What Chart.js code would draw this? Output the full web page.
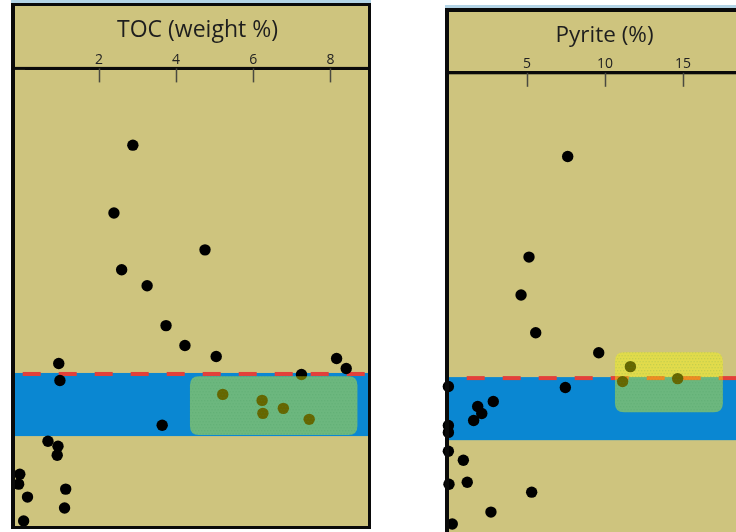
<!DOCTYPE html>
<html>
<head>
<meta charset="utf-8">
<script src="https://cdn.jsdelivr.net/npm/chart.js@4.4.1/dist/chart.umd.min.js"></script>
<style>
  html, body { margin: 0; padding: 0; background: #ffffff; }
  body { width: 736px; height: 532px; position: relative; overflow: hidden; }
  canvas { position: absolute; top: 0; }
  #tocChart { left: 0; }
  #pyriteChart { left: 440px; }
</style>
</head>
<body>
<canvas id="tocChart" width="380" height="532"></canvas>
<canvas id="pyriteChart" width="320" height="532"></canvas>
<script>
// Total organic carbon samples (weight %) and their depth (depth units, increasing downwards)
const tocValues = [2.88, 2.39, 4.75, 2.59, 3.25, 3.74, 4.23, 5.04, 8.16, 8.41,
                   0.96, 0.99, 7.25, 5.21, 6.23, 6.25, 6.78, 7.45, 3.64, 0.68,
                   0.94, 0.92, -0.05, -0.08, 0.15, 1.14, 1.11, 0.05];
const tocDepth  = [7.7, 14.5, 18.2, 20.2, 21.8, 25.8, 27.8, 28.9, 29.1, 30.1,
                   29.6, 31.3, 30.7, 32.7, 33.3, 34.6, 34.1, 35.2, 35.8, 37.4,
                   37.9, 38.8, 40.7, 41.7, 43.0, 42.2, 44.1, 45.4];

// Pyrite content (%) and depth
const pyriteValues = [7.61, 5.13, 4.62, 5.56, 9.60, 11.63, 11.13, 14.66, 7.46, -0.04,
                      2.84, 1.84, 2.10, 1.58, -0.04, -0.04, -0.04, 0.92, 1.17, 0.0,
                      5.30, 2.69, 0.21];
const pyriteDepth  = [8.4, 18.5, 22.3, 26.1, 28.1, 29.5, 31.0, 30.7, 31.6, 31.5,
                      33.0, 33.5, 34.2, 34.9, 35.4, 36.1, 38.0, 38.9, 41.1, 41.3,
                      42.1, 44.1, 45.3];

// Axis ticks
const tocTicks = [2, 4, 6, 8];
const pyriteTicks = [5, 10, 15];

// Interval markers (depth)
const bandDepth = [30.55, 36.88];   // blue interval
const boundaryDepth = 30.65;        // red dashed boundary
// Highlighted windows: [xMin, xMax, depthTop, depthBottom]
const tocWindow = [4.36, 8.70, 30.87, 36.78];
const pyriteWindow = [10.64, 17.56, 28.06, 34.07];

const KHAKI = '#cec47e';
const BLUE = '#0a87d2';
const RED = '#e3403a';

function roundRect(ctx, x, y, w, h, r) {
  ctx.beginPath();
  ctx.moveTo(x + r, y);
  ctx.lineTo(x + w - r, y);
  ctx.quadraticCurveTo(x + w, y, x + w, y + r);
  ctx.lineTo(x + w, y + h - r);
  ctx.quadraticCurveTo(x + w, y + h, x + w - r, y + h);
  ctx.lineTo(x + r, y + h);
  ctx.quadraticCurveTo(x, y + h, x, y + h - r);
  ctx.lineTo(x, y + r);
  ctx.quadraticCurveTo(x, y, x + r, y);
  ctx.closePath();
}

const panelPlugin = {
  id: 'panel',
  beforeDraw(chart, args, o) {
    const ctx = chart.ctx;
    // nudge the centred axis title sideways (tick positions are already fixed)
    const xs = chart.scales.x;
    if (o.titleShift && !xs._titleShifted) {
      xs.left += 2 * o.titleShift;
      xs._titleShifted = true;
    }
    ctx.save();
    // light strip above the frame
    ctx.fillStyle = '#b3d4e6';
    ctx.fillRect(o.frameLeft, o.stripTop, o.frameRight - o.frameLeft, o.frameTop - o.stripTop);
    // panel background
    ctx.fillStyle = KHAKI;
    ctx.fillRect(o.frameLeft, o.frameTop, o.frameRight - o.frameLeft, o.frameBottom - o.frameTop);
    ctx.restore();
  },
  beforeDatasetsDraw(chart, args, o) {
    const ctx = chart.ctx;
    const a = chart.chartArea;
    const ys = chart.scales.y;
    ctx.save();
    ctx.beginPath();
    ctx.rect(a.left, a.top, a.right - a.left, a.bottom - a.top);
    ctx.clip();
    const y0 = ys.getPixelForValue(bandDepth[0]);
    const y1 = ys.getPixelForValue(bandDepth[1]);
    ctx.fillStyle = BLUE;
    ctx.fillRect(a.left, y0, a.right - a.left, y1 - y0);
    const yr = ys.getPixelForValue(boundaryDepth);
    ctx.strokeStyle = RED;
    ctx.lineWidth = 4;
    ctx.setLineDash([18, 18]);
    ctx.lineDashOffset = o.dashOffset;
    ctx.beginPath();
    ctx.moveTo(a.left, yr);
    ctx.lineTo(a.right, yr);
    ctx.stroke();
    ctx.restore();
  },
  afterDatasetsDraw(chart, args, o) {
    const ctx = chart.ctx;
    const xs = chart.scales.x, ys = chart.scales.y;
    const w = o.window;
    const x0 = xs.getPixelForValue(w[0]), x1 = xs.getPixelForValue(w[1]);
    const y0 = ys.getPixelForValue(w[2]), y1 = ys.getPixelForValue(w[3]);
    ctx.save();
    roundRect(ctx, x0, y0, x1 - x0, y1 - y0, 9);
    ctx.fillStyle = 'rgba(255, 255, 0, 0.40)';
    ctx.fill();
    ctx.clip();
    // fine halftone texture
    ctx.fillStyle = 'rgba(60, 150, 90, 0.16)';
    for (let yy = Math.floor(y0); yy < y1; yy += 3) {
      const shift = (Math.round((yy - y0) / 3) % 2) ? 1.5 : 0;
      for (let xx = Math.floor(x0) + shift; xx < x1; xx += 3) {
        ctx.fillRect(xx, yy, 1.3, 1.3);
      }
    }
    ctx.restore();
  },
  afterDraw(chart, args, o) {
    const ctx = chart.ctx;
    const a = chart.chartArea;
    const xs = chart.scales.x;
    ctx.save();
    // axis line across the full plot width
    ctx.fillStyle = '#0a0a0a';
    ctx.fillRect(a.left, a.top - 1.5, a.right - a.left, 3);
    // inward tick marks
    ctx.strokeStyle = '#4a4a40';
    ctx.lineWidth = 1.5;
    xs.ticks.forEach(t => {
      const x = Math.round(xs.getPixelForValue(t.value)) + 0.5;
      ctx.beginPath();
      ctx.moveTo(x, a.top);
      ctx.lineTo(x, a.top + 14);
      ctx.stroke();
    });
    // frame
    ctx.fillStyle = '#0a0a0a';
    ctx.fillRect(o.frameLeft, o.frameTop, o.frameRight - o.frameLeft, o.topWidth);
    ctx.fillRect(o.frameLeft, o.frameTop, o.leftWidth, o.frameBottom - o.frameTop);
    if (o.rightWidth) ctx.fillRect(o.frameRight - o.rightWidth, o.frameTop, o.rightWidth, o.frameBottom - o.frameTop);
    if (o.bottomWidth) ctx.fillRect(o.frameLeft, o.frameBottom - o.bottomWidth, o.frameRight - o.frameLeft, o.bottomWidth);
    ctx.restore();
  }
};

function makeChart(id, cfg) {
  const ticks = cfg.ticks;
  return new Chart(document.getElementById(id), {
    type: 'scatter',
    data: {
      datasets: [{
        data: cfg.values.map((v, i) => ({ x: v, y: cfg.depth[i] })),
        backgroundColor: '#000000',
        borderColor: '#000000',
        borderWidth: 0,
        pointRadius: 5.7,
        pointHoverRadius: 5.7,
        clip: false
      }]
    },
    options: {
      responsive: false,
      animation: false,
      devicePixelRatio: 1,
      events: [],
      layout: { autoPadding: false, padding: cfg.padding },
      scales: {
        x: {
          type: 'linear',
          position: 'top',
          min: cfg.xMin,
          max: cfg.xMax,
          afterBuildTicks: s => { s.ticks = ticks.map(v => ({ value: v })); },
          grid: { display: false, drawTicks: false },
          border: { display: true, color: '#0a0a0a', width: 3 },
          ticks: {
            color: '#222222',
            padding: 0,
            font: { family: 'Open Sans', size: 14 },
            callback: v => String(v)
          },
          title: {
            display: true,
            text: cfg.title,
            color: '#1e1e1e',
            font: { family: 'Open Sans', size: cfg.titleSize },
            padding: { top: 0, bottom: 7 }
          }
        },
        y: {
          type: 'linear',
          display: false,
          reverse: true,
          min: 0,
          max: cfg.yMax
        }
      },
      plugins: {
        legend: { display: false },
        tooltip: { enabled: false },
        panel: cfg.panel
      }
    },
    plugins: [panelPlugin]
  });
}

makeChart('tocChart', {
  values: tocValues, depth: tocDepth, ticks: tocTicks,
  title: 'TOC (weight %)', titleSize: 23,
  xMin: -0.2, xMax: 9.0, yMax: 46,
  padding: { left: 14, right: 11, top: 17, bottom: 5 },
  panel: {
    window: tocWindow, dashOffset: 27.3, titleShift: 6,
    stripTop: 0, frameTop: 3, frameLeft: 11, frameRight: 371, frameBottom: 529,
    topWidth: 3, leftWidth: 4, rightWidth: 3, bottomWidth: 3
  }
});

makeChart('pyriteChart', {
  values: pyriteValues, depth: pyriteDepth, ticks: pyriteTicks,
  title: 'Pyrite (%)', titleSize: 22.5,
  xMin: 0, xMax: 19.94, yMax: 46.1,
  padding: { left: 9, right: 0, top: 22, bottom: 0 },
  panel: {
    window: pyriteWindow, dashOffset: 18.3, titleShift: 0,
    stripTop: 5, frameTop: 8, frameLeft: 5, frameRight: 320, frameBottom: 532,
    topWidth: 4, leftWidth: 4, rightWidth: 0, bottomWidth: 0
  }
});
</script>
</body>
</html>
